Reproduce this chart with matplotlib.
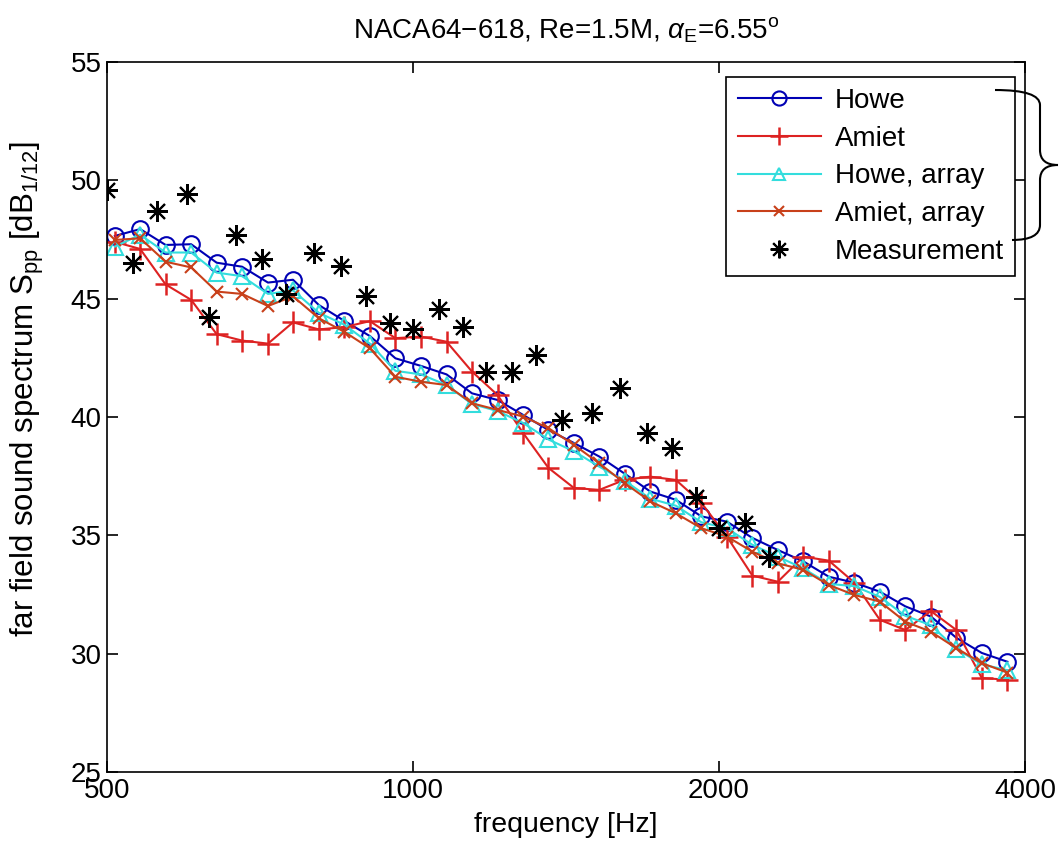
import numpy as np
import matplotlib
matplotlib.use("Agg")
import matplotlib.pyplot as plt
from matplotlib.path import Path
from matplotlib.patches import PathPatch

plt.rcParams['font.family'] = ['Liberation Sans', 'DejaVu Sans']
plt.rcParams['mathtext.fontset'] = 'custom'
plt.rcParams['mathtext.rm'] = 'Liberation Sans'
plt.rcParams['mathtext.it'] = 'Liberation Sans:italic'

# model frequencies (1/12 octave bands) [Hz]
freq_model = [509, 539, 571, 605, 641, 679, 720, 762, 808, 856, 907, 961,
              1018, 1079, 1143, 1211, 1283, 1359, 1440, 1525, 1616, 1712, 1814, 1922,
              2036, 2157, 2285, 2421, 2565, 2718, 2879, 3050, 3232, 3424, 3627, 3843]

howe = [47.65, 47.94, 47.27, 47.30, 46.52, 46.35, 45.68, 45.80, 44.73, 44.06, 43.42, 42.48,
        42.16, 41.80, 41.00, 40.72, 40.09, 39.45, 38.90, 38.33, 37.60, 36.85, 36.50, 35.80,
        35.58, 34.89, 34.38, 33.90, 33.25, 33.00, 32.62, 32.00, 31.57, 30.67, 30.03, 29.66]

amiet = [47.40, 47.10, 45.60, 44.95, 43.50, 43.23, 43.10, 44.00, 43.70, 43.80, 44.05, 43.33,
         43.40, 43.18, 41.92, 40.93, 39.33, 37.85, 37.00, 36.92, 37.35, 37.48, 37.34, 36.37,
         34.95, 33.30, 33.04, 34.10, 33.93, 33.00, 31.43, 31.00, 31.80, 31.00, 28.97, 28.90]

howe_array = [47.20, 47.70, 46.95, 46.95, 46.10, 45.95, 45.20, 45.35, 44.40, 43.90, 43.10, 41.95,
              41.80, 41.35, 40.55, 40.25, 39.75, 39.05, 38.55, 37.90, 37.30, 36.55, 36.25, 35.55,
              35.30, 34.60, 34.10, 33.60, 32.95, 32.85, 32.40, 31.60, 31.20, 30.20, 29.55, 29.30]

amiet_array = [47.48, 47.55, 46.56, 46.32, 45.30, 45.20, 44.69, 45.10, 44.17, 43.60, 42.90, 41.70,
               41.49, 41.35, 40.58, 40.30, 40.02, 39.53, 38.82, 38.04, 37.20, 36.43, 35.93, 35.30,
               34.95, 34.31, 33.82, 33.54, 32.90, 32.48, 32.20, 31.35, 30.93, 30.23, 29.60, 29.20]

# measurement frequencies [Hz] and levels
freq_meas = [500, 530, 560, 600, 630, 670, 710, 750, 800, 850, 900, 950, 1000,
             1060, 1120, 1180, 1250, 1320, 1400, 1500, 1600, 1700, 1800, 1900, 2000, 2120, 2240]
meas = [49.60, 46.52, 48.70, 49.42, 44.21, 47.69, 46.66, 45.20, 46.92, 46.38, 45.11, 43.96, 43.70,
        44.56, 43.79, 41.92, 41.92, 42.62, 39.88, 40.19, 41.21, 39.31, 38.68, 36.60, 35.30, 35.51, 34.10]

xticks = [500, 1000, 2000, 4000]

W, H = 1061, 847
fig = plt.figure(figsize=(W / 100, H / 100), dpi=100)
ax = fig.add_axes([107 / W, 1 - 772 / H, 918 / W, 710 / H])

ax.plot(freq_model, howe, '-o', color='#0000b4', lw=1.5, ms=12, mfc='none', mew=1.5, label='Howe')
ax.plot(freq_model, amiet, '-+', color='#dd2222', lw=1.5, ms=16, mew=1.8, label='Amiet')
ax.plot(freq_model, howe_array, '-^', color='#33dddd', lw=1.5, ms=11, mfc='none', mew=1.5,
        label='Howe, array')
ax.plot(freq_model, amiet_array, '-x', color='#c8401a', lw=1.5, ms=8, mew=1.5, label='Amiet, array')
ax.plot(freq_meas, meas, ls='none', marker=(8, 2, 0), color='black', ms=15, mew=1.5,
        label='Measurement')

ax.set_xscale('log')
ax.set_xlim(500, 4000)
ax.set_ylim(25, 55)
ax.set_xticks(xticks)
ax.set_xticklabels([str(t) for t in xticks])
ax.minorticks_off()
ax.set_yticks([25, 30, 35, 40, 45, 50, 55])
ax.tick_params(direction='in', top=True, right=True, length=8, width=1.2, labelsize=20, pad=4)
for s in ax.spines.values():
    s.set_linewidth(1.2)

ax.set_xlabel('frequency [Hz]', fontsize=20.5, labelpad=6)
ax.set_ylabel(r'far field sound spectrum S$_{\rm pp}$ [dB$_{\rm 1/12}$]', fontsize=22.5)
ax.yaxis.set_label_coords(-0.066, 0.54)
fig.text(566 / W, 1 - 30 / H, r'NACA64−618, Re=1.5M, $\alpha_{\rm E}$=6.55$^{\rm o}$',
         ha='center', va='center', fontsize=20)

leg = ax.legend(loc='upper right', bbox_to_anchor=((1015 - 107) / 918, (772 - 77) / 710),
                borderaxespad=0, fontsize=20, frameon=True, fancybox=False, framealpha=1,
                edgecolor='black', handlelength=3.0, handletextpad=0.5, labelspacing=0.42,
                borderpad=0.4, markerscale=0.85)
leg.get_frame().set_linewidth(1.2)

# curly brace next to the legend
pts = [(995, 90), (1040, 90), (1040, 105), (1040, 150), (1040, 165), (1058, 165),
       (1040, 165), (1040, 180), (1040, 225), (1040, 240), (1012, 240)]
codes = [Path.MOVETO, Path.CURVE3, Path.CURVE3, Path.LINETO, Path.CURVE3, Path.CURVE3,
         Path.CURVE3, Path.CURVE3, Path.LINETO, Path.CURVE3, Path.CURVE3]
verts = [(x / W, 1 - y / H) for x, y in pts]
brace = PathPatch(Path(verts, codes), transform=fig.transFigure, fill=False, lw=1.5,
                  edgecolor='black', clip_on=False)
fig.patches.append(brace)

fig.savefig('out.png', dpi=100)
